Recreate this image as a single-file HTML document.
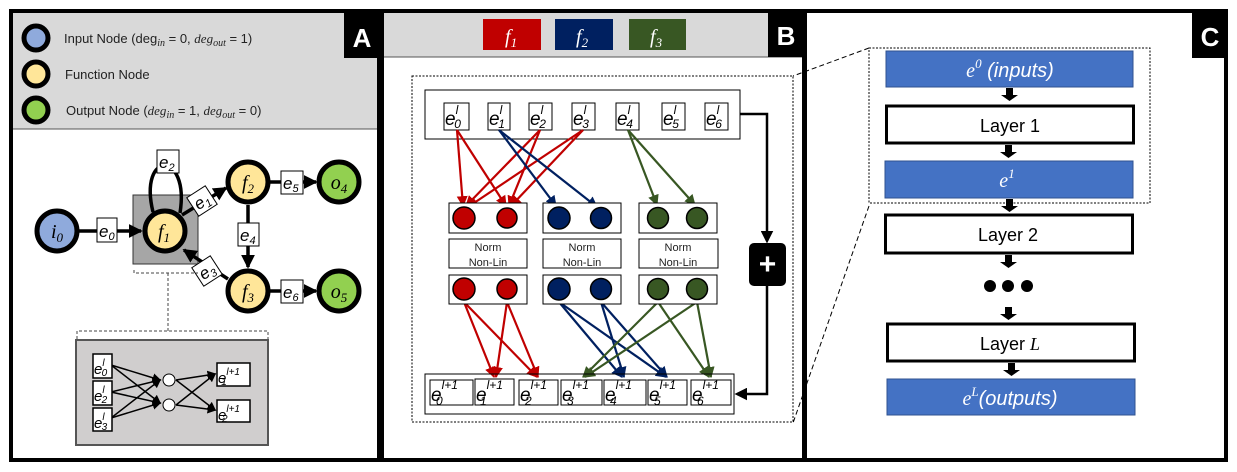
<!DOCTYPE html>
<html><head><meta charset="utf-8"><style>
body{margin:0;background:#fff}
svg{display:block}
text{font-family:"Liberation Sans",sans-serif}
.m{font-family:"Liberation Serif",serif;font-style:italic}
</style></head><body>
<svg width="1237" height="472" viewBox="0 0 1237 472">
<defs>
<marker id="ak" markerWidth="4" markerHeight="4" refX="3.5" refY="2" orient="auto" markerUnits="strokeWidth"><path d="M0,0L4,2L0,4z" fill="#000"/></marker>
<marker id="ak2" markerWidth="6" markerHeight="6" refX="5" refY="3" orient="auto" markerUnits="strokeWidth"><path d="M0,0L6,3L0,6z" fill="#000"/></marker>
<marker id="ar" markerWidth="5" markerHeight="5" refX="4.5" refY="2.5" orient="auto" markerUnits="strokeWidth"><path d="M0,0L5,2.5L0,5z" fill="#c00000"/></marker>
<marker id="ab" markerWidth="5" markerHeight="5" refX="4.5" refY="2.5" orient="auto" markerUnits="strokeWidth"><path d="M0,0L5,2.5L0,5z" fill="#002060"/></marker>
<marker id="ag" markerWidth="5" markerHeight="5" refX="4.5" refY="2.5" orient="auto" markerUnits="strokeWidth"><path d="M0,0L5,2.5L0,5z" fill="#385723"/></marker>
<marker id="as" markerWidth="5" markerHeight="5" refX="4" refY="2.5" orient="auto" markerUnits="strokeWidth"><path d="M0,0L5,2.5L0,5z" fill="#000"/></marker>
</defs>

<!-- Panel A -->
<g>
<rect x="12" y="12" width="367" height="117" fill="#d9d9d9"/>
<line x1="12" y1="129" x2="379" y2="129" stroke="#555" stroke-width="1"/>
<rect x="11" y="11" width="368" height="449" fill="none" stroke="#000" stroke-width="4"/>
<rect x="344" y="12" width="36" height="46" fill="#000"/>
<text x="362" y="47" font-size="26" font-weight="bold" fill="#fff" text-anchor="middle">A</text>
<g>
<circle cx="36" cy="38" r="12" fill="#8faadc" stroke="#000" stroke-width="5"/>
<circle cx="36" cy="74" r="12" fill="#ffe699" stroke="#000" stroke-width="5"/>
<circle cx="36" cy="110" r="12" fill="#92d050" stroke="#000" stroke-width="5"/>
<text x="64" y="43" font-size="13" fill="#222">Input Node (deg<tspan class="m" font-size="10" dy="3">in</tspan><tspan dy="-3"> = 0, </tspan><tspan class="m">deg</tspan><tspan class="m" font-size="10" dy="3">out</tspan><tspan dy="-3"> = 1)</tspan></text>
<text x="65" y="79" font-size="13" fill="#222">Function Node</text>
<text x="66" y="115" font-size="13" fill="#222">Output Node (<tspan class="m">deg</tspan><tspan class="m" font-size="10" dy="3">in</tspan><tspan dy="-3"> = 1, </tspan><tspan class="m">deg</tspan><tspan class="m" font-size="10" dy="3">out</tspan><tspan dy="-3"> = 0)</tspan></text>
</g>
<g>
<rect x="133" y="195" width="65" height="69" fill="#a6a6a6" stroke="#333" stroke-width="1"/>
<line x1="78" y1="231" x2="141" y2="231" stroke="#000" stroke-width="3.5" marker-end="url(#ak)"/>
<path d="M153,212 C138,150 190,150 180,213" fill="none" stroke="#000" stroke-width="3.5" marker-start="url(#ak)"/>
<line x1="182" y1="215" x2="226" y2="188" stroke="#000" stroke-width="3.5" marker-end="url(#ak)"/>
<line x1="248" y1="205" x2="248" y2="267" stroke="#000" stroke-width="3.5" marker-end="url(#ak)"/>
<line x1="228" y1="279" x2="184" y2="250" stroke="#000" stroke-width="3.5" marker-end="url(#ak)"/>
<line x1="270" y1="182" x2="316" y2="182" stroke="#000" stroke-width="3.5" marker-end="url(#ak)"/>
<line x1="270" y1="291" x2="316" y2="291" stroke="#000" stroke-width="3.5" marker-end="url(#ak)"/>
<circle cx="57" cy="231" r="20" fill="#8faadc" stroke="#000" stroke-width="5"/>
<text x="57" y="238" class="m" font-size="20" text-anchor="middle">i<tspan font-size="13" dy="4">0</tspan></text>
<circle cx="165" cy="231" r="20" fill="#ffe699" stroke="#000" stroke-width="5"/>
<text x="164" y="238" class="m" font-size="20" text-anchor="middle">f<tspan font-size="13" dy="4">1</tspan></text>
<circle cx="248" cy="182" r="20" fill="#ffe699" stroke="#000" stroke-width="5"/>
<text x="248" y="189" class="m" font-size="20" text-anchor="middle">f<tspan font-size="13" dy="4">2</tspan></text>
<circle cx="248" cy="291" r="20" fill="#ffe699" stroke="#000" stroke-width="5"/>
<text x="248" y="298" class="m" font-size="20" text-anchor="middle">f<tspan font-size="13" dy="4">3</tspan></text>
<circle cx="339" cy="182" r="20" fill="#92d050" stroke="#000" stroke-width="5"/>
<text x="339" y="189" class="m" font-size="20" text-anchor="middle">o<tspan font-size="13" dy="4">4</tspan></text>
<circle cx="339" cy="291" r="20" fill="#92d050" stroke="#000" stroke-width="5"/>
<text x="339" y="298" class="m" font-size="20" text-anchor="middle">o<tspan font-size="13" dy="4">5</tspan></text>
<g font-size="17" class="m">
<rect x="97" y="218" width="20" height="24" fill="#fff" stroke="#000"/><text x="99" y="237">e<tspan font-size="11" dy="3">0</tspan></text>
<rect x="157" y="150" width="22" height="23" fill="#fff" stroke="#000"/><text x="159" y="168">e<tspan font-size="11" dy="3">2</tspan></text>
<g transform="translate(202,201) rotate(-33)"><rect x="-11" y="-11" width="22" height="22" fill="#fff" stroke="#000"/><text x="-8" y="6">e<tspan font-size="11" dy="3">1</tspan></text></g>
<g transform="translate(207,271) rotate(-33)"><rect x="-11" y="-11" width="22" height="22" fill="#fff" stroke="#000"/><text x="-8" y="6">e<tspan font-size="11" dy="3">3</tspan></text></g>
<rect x="238" y="223" width="21" height="23" fill="#fff" stroke="#000"/><text x="240" y="241">e<tspan font-size="11" dy="3">4</tspan></text>
<rect x="281" y="171" width="22" height="23" fill="#fff" stroke="#000"/><text x="283" y="189">e<tspan font-size="11" dy="3">5</tspan></text>
<rect x="281" y="280" width="22" height="23" fill="#fff" stroke="#000"/><text x="283" y="298">e<tspan font-size="11" dy="3">6</tspan></text>
</g>
</g>
<g>
<path d="M134,270 L134,273 L198,273" fill="none" stroke="#444" stroke-dasharray="3,2"/>
<line x1="168" y1="273" x2="168" y2="331" stroke="#444" stroke-dasharray="3,2"/>
<path d="M77,339 L77,331 L268,331 L268,339" fill="none" stroke="#444" stroke-dasharray="3,2"/>
<rect x="76" y="340" width="192" height="105" fill="#d0cece" stroke="#555" stroke-width="2"/>
<g stroke="#000" stroke-width="1.5">
<line x1="111" y1="365" x2="160" y2="380" marker-end="url(#ak2)"/><line x1="111" y1="365" x2="160" y2="403" marker-end="url(#ak2)"/>
<line x1="111" y1="392" x2="160" y2="380" marker-end="url(#ak2)"/><line x1="111" y1="392" x2="160" y2="403" marker-end="url(#ak2)"/>
<line x1="111" y1="418" x2="160" y2="380" marker-end="url(#ak2)"/><line x1="111" y1="418" x2="160" y2="403" marker-end="url(#ak2)"/>
<line x1="176" y1="380" x2="215" y2="374" marker-end="url(#ak2)"/><line x1="176" y1="380" x2="215" y2="410" marker-end="url(#ak2)"/>
<line x1="176" y1="405" x2="215" y2="374" marker-end="url(#ak2)"/><line x1="176" y1="405" x2="215" y2="410" marker-end="url(#ak2)"/>
</g>
<circle cx="169" cy="380" r="6" fill="#fff" stroke="#000"/><circle cx="169" cy="405" r="6" fill="#fff" stroke="#000"/>
<g class="m" font-size="15">
<rect x="93" y="354" width="19" height="24" fill="#fff" stroke="#000" stroke-width="1.5"/><text x="94" y="374">e<tspan font-size="10" dy="-8">l</tspan><tspan font-size="10" dx="-3" dy="10">0</tspan></text>
<rect x="93" y="381" width="19" height="24" fill="#fff" stroke="#000" stroke-width="1.5"/><text x="94" y="401">e<tspan font-size="10" dy="-8">l</tspan><tspan font-size="10" dx="-3" dy="10">2</tspan></text>
<rect x="93" y="408" width="19" height="23" fill="#fff" stroke="#000" stroke-width="1.5"/><text x="94" y="428">e<tspan font-size="10" dy="-8">l</tspan><tspan font-size="10" dx="-3" dy="10">3</tspan></text>
<rect x="217" y="363" width="33" height="23" fill="#fff" stroke="#000" stroke-width="1.5"/><text x="218" y="383">e<tspan font-size="10" dy="-8">l+1</tspan><tspan font-size="10" dx="-18" dy="10">1</tspan></text>
<rect x="217" y="400" width="33" height="22" fill="#fff" stroke="#000" stroke-width="1.5"/><text x="218" y="420">e<tspan font-size="10" dy="-8">l+1</tspan><tspan font-size="10" dx="-18" dy="10">2</tspan></text>
</g>
</g>
</g>

<!-- Panel B -->
<g>
<rect x="383" y="12" width="420" height="45" fill="#d9d9d9"/>
<line x1="383" y1="57" x2="803" y2="57" stroke="#555"/>
<rect x="382" y="11" width="422" height="449" fill="none" stroke="#000" stroke-width="4"/>
<rect x="768" y="12" width="36" height="45" fill="#000"/>
<text x="786" y="45" font-size="26" font-weight="bold" fill="#fff" text-anchor="middle">B</text>
<g>
<rect x="483" y="19" width="58" height="31" fill="#c00000"/><text x="505" y="43" class="m" font-size="20" fill="#fff">f<tspan font-size="13" dy="4">1</tspan></text>
<rect x="555" y="19" width="58" height="31" fill="#002060"/><text x="576" y="43" class="m" font-size="20" fill="#fff">f<tspan font-size="13" dy="4">2</tspan></text>
<rect x="629" y="19" width="57" height="31" fill="#385723"/><text x="650" y="43" class="m" font-size="20" fill="#fff">f<tspan font-size="13" dy="4">3</tspan></text>
</g>
<rect x="412" y="76" width="381" height="346" fill="none" stroke="#000" stroke-dasharray="2,1.5" stroke-width="1"/>
<rect x="425" y="90" width="315" height="49" fill="#fff" stroke="#000"/>
<g class="m" font-size="19">
<rect x="444" y="103" width="25" height="27" fill="#fff" stroke="#000"/><text x="445" y="125">e<tspan font-size="12" dy="-11">l</tspan><tspan font-size="12" dx="-4" dy="14">0</tspan></text>
<rect x="488" y="103" width="22" height="27" fill="#fff" stroke="#000"/><text x="489" y="125">e<tspan font-size="12" dy="-11">l</tspan><tspan font-size="12" dx="-4" dy="14">1</tspan></text>
<rect x="529" y="103" width="23" height="27" fill="#fff" stroke="#000"/><text x="530" y="125">e<tspan font-size="12" dy="-11">l</tspan><tspan font-size="12" dx="-4" dy="14">2</tspan></text>
<rect x="572" y="103" width="23" height="27" fill="#fff" stroke="#000"/><text x="573" y="125">e<tspan font-size="12" dy="-11">l</tspan><tspan font-size="12" dx="-4" dy="14">3</tspan></text>
<rect x="616" y="103" width="23" height="27" fill="#fff" stroke="#000"/><text x="617" y="125">e<tspan font-size="12" dy="-11">l</tspan><tspan font-size="12" dx="-4" dy="14">4</tspan></text>
<rect x="662" y="103" width="23" height="27" fill="#fff" stroke="#000"/><text x="663" y="125">e<tspan font-size="12" dy="-11">l</tspan><tspan font-size="12" dx="-4" dy="14">5</tspan></text>
<rect x="705" y="103" width="23" height="27" fill="#fff" stroke="#000"/><text x="706" y="125">e<tspan font-size="12" dy="-11">l</tspan><tspan font-size="12" dx="-4" dy="14">6</tspan></text>
</g>
<g stroke-width="2.2" fill="none">
<g stroke="#c00000">
<line x1="457" y1="130" x2="463" y2="206" marker-end="url(#ar)"/><line x1="457" y1="130" x2="506" y2="206" marker-end="url(#ar)"/>
<line x1="540" y1="130" x2="466" y2="206" marker-end="url(#ar)"/><line x1="540" y1="130" x2="509" y2="206" marker-end="url(#ar)"/>
<line x1="583" y1="130" x2="468" y2="207" marker-end="url(#ar)"/><line x1="583" y1="130" x2="511" y2="206" marker-end="url(#ar)"/>
<line x1="464" y1="302" x2="494" y2="377" marker-end="url(#ar)"/><line x1="464" y1="302" x2="537" y2="377" marker-end="url(#ar)"/>
<line x1="507" y1="302" x2="496" y2="377" marker-end="url(#ar)"/><line x1="507" y1="302" x2="538" y2="377" marker-end="url(#ar)"/>
</g>
<g stroke="#002060">
<line x1="499" y1="130" x2="556" y2="206" marker-end="url(#ab)"/><line x1="499" y1="130" x2="597" y2="207" marker-end="url(#ab)"/>
<line x1="559" y1="302" x2="622" y2="377" marker-end="url(#ab)"/><line x1="559" y1="302" x2="666" y2="377" marker-end="url(#ab)"/>
<line x1="601" y1="302" x2="624" y2="377" marker-end="url(#ab)"/><line x1="601" y1="302" x2="667" y2="377" marker-end="url(#ab)"/>
</g>
<g stroke="#385723">
<line x1="628" y1="130" x2="657" y2="205" marker-end="url(#ag)"/><line x1="628" y1="130" x2="695" y2="205" marker-end="url(#ag)"/>
<line x1="658" y1="302" x2="583" y2="377" marker-end="url(#ag)"/><line x1="658" y1="302" x2="709" y2="377" marker-end="url(#ag)"/>
<line x1="697" y1="302" x2="585" y2="377" marker-end="url(#ag)"/><line x1="697" y1="302" x2="711" y2="377" marker-end="url(#ag)"/>
</g>
</g>
<g>
<rect x="449" y="203" width="78" height="30" fill="#fff" stroke="#000"/>
<rect x="543" y="203" width="78" height="30" fill="#fff" stroke="#000"/>
<rect x="639" y="203" width="78" height="30" fill="#fff" stroke="#000"/>
<rect x="449" y="275" width="78" height="29" fill="#fff" stroke="#000"/>
<rect x="543" y="275" width="78" height="29" fill="#fff" stroke="#000"/>
<rect x="639" y="275" width="78" height="29" fill="#fff" stroke="#000"/>
<g stroke="#000" stroke-width="1.5">
<circle cx="464" cy="218" r="11" fill="#c00000"/><circle cx="507" cy="218" r="10" fill="#c00000"/>
<circle cx="559" cy="218" r="11" fill="#002060"/><circle cx="601" cy="218" r="10.5" fill="#002060"/>
<circle cx="658" cy="218" r="10.5" fill="#385723"/><circle cx="697" cy="218" r="10.5" fill="#385723"/>
<circle cx="464" cy="289" r="11" fill="#c00000"/><circle cx="507" cy="289" r="10" fill="#c00000"/>
<circle cx="559" cy="289" r="11" fill="#002060"/><circle cx="601" cy="289" r="10.5" fill="#002060"/>
<circle cx="658" cy="289" r="10.5" fill="#385723"/><circle cx="697" cy="289" r="10.5" fill="#385723"/>
</g>
<g font-size="11" fill="#222" text-anchor="middle">
<rect x="449" y="239" width="78" height="29" fill="#fff" stroke="#000"/><text x="488" y="251">Norm</text><text x="488" y="266">Non-Lin</text>
<rect x="543" y="239" width="78" height="29" fill="#fff" stroke="#000"/><text x="582" y="251">Norm</text><text x="582" y="266">Non-Lin</text>
<rect x="639" y="239" width="79" height="29" fill="#fff" stroke="#000"/><text x="678" y="251">Norm</text><text x="678" y="266">Non-Lin</text>
</g>
</g>
<rect x="425" y="374" width="309" height="40" fill="none" stroke="#000"/>
<g class="m" font-size="19">
<rect x="430" y="380" width="43" height="25" fill="#fff" stroke="#000"/><text x="431" y="401">e<tspan font-size="12" dy="-12">l+1</tspan><tspan font-size="12" dx="-22" dy="16">0</tspan></text>
<rect x="475" y="379" width="39" height="26" fill="#fff" stroke="#000"/><text x="476" y="401">e<tspan font-size="12" dy="-12">l+1</tspan><tspan font-size="12" dx="-22" dy="16">1</tspan></text>
<rect x="519" y="380" width="39" height="25" fill="#fff" stroke="#000"/><text x="520" y="401">e<tspan font-size="12" dy="-12">l+1</tspan><tspan font-size="12" dx="-22" dy="16">2</tspan></text>
<rect x="561" y="380" width="41" height="25" fill="#fff" stroke="#000"/><text x="562" y="401">e<tspan font-size="12" dy="-12">l+1</tspan><tspan font-size="12" dx="-22" dy="16">3</tspan></text>
<rect x="604" y="380" width="42" height="25" fill="#fff" stroke="#000"/><text x="605" y="401">e<tspan font-size="12" dy="-12">l+1</tspan><tspan font-size="12" dx="-22" dy="16">4</tspan></text>
<rect x="648" y="380" width="39" height="25" fill="#fff" stroke="#000"/><text x="649" y="401">e<tspan font-size="12" dy="-12">l+1</tspan><tspan font-size="12" dx="-22" dy="16">5</tspan></text>
<rect x="691" y="380" width="40" height="25" fill="#fff" stroke="#000"/><text x="692" y="401">e<tspan font-size="12" dy="-12">l+1</tspan><tspan font-size="12" dx="-22" dy="16">6</tspan></text>
</g>
<g>
<polyline points="740,114 767,114 767,241" fill="none" stroke="#000" stroke-width="2.5" marker-end="url(#as)"/>
<polyline points="767,286 767,394 737,394" fill="none" stroke="#000" stroke-width="2.5" marker-end="url(#as)"/>
<rect x="749" y="243" width="37" height="43" rx="5" fill="#000"/>
<text x="767.5" y="274" font-size="30" font-weight="bold" fill="#fff" text-anchor="middle">+</text>
</g>
</g>

<!-- Panel C -->
<g>
<rect x="805" y="11" width="421" height="449" fill="none" stroke="#000" stroke-width="4"/>
<rect x="1192" y="12" width="35" height="46" fill="#000"/>
<text x="1210" y="46" font-size="26" font-weight="bold" fill="#fff" text-anchor="middle">C</text>
<rect x="869" y="48" width="281" height="155" fill="none" stroke="#000" stroke-dasharray="2,1.5"/>
<line x1="869" y1="48" x2="793" y2="76" stroke="#000" stroke-dasharray="5,3"/>
<line x1="869" y1="206" x2="793" y2="423" stroke="#000" stroke-dasharray="5,3"/>
<g fill="#000">
<rect x="1006" y="88" width="7" height="8"/><path d="M1001,95h17l-8.5,6z"/>
<rect x="1005" y="145" width="7" height="8"/><path d="M1000,152h17l-8.5,6z"/>
<rect x="1006" y="199" width="7" height="8"/><path d="M1001,206h17l-8.5,6z"/>
<rect x="1005" y="255" width="7" height="8"/><path d="M1000,262h17l-8.5,6z"/>
<rect x="1005" y="307" width="7" height="8"/><path d="M1000,314h17l-8.5,6z"/>
<rect x="1008" y="363" width="7" height="8"/><path d="M1003,370h17l-8.5,6z"/>
<circle cx="990" cy="286" r="6"/><circle cx="1008" cy="286" r="6"/><circle cx="1027" cy="286" r="6"/>
</g>
<rect x="886" y="51" width="247" height="36" fill="#4472c4" stroke="#2f528f"/>
<text x="1010" y="77" text-anchor="middle" fill="#fff" font-size="20"><tspan class="m">e</tspan><tspan class="m" font-size="13" dy="-9">0</tspan><tspan dy="9" font-style="italic"> (inputs)</tspan></text>
<rect x="886.5" y="106" width="247" height="37" fill="#fff" stroke="#000" stroke-width="3"/>
<text x="1010" y="132" text-anchor="middle" font-size="18">Layer 1</text>
<rect x="885" y="161" width="248" height="37" fill="#4472c4" stroke="#2f528f"/>
<text x="1007" y="187" text-anchor="middle" fill="#fff" font-size="20"><tspan class="m">e</tspan><tspan class="m" font-size="13" dy="-9">1</tspan></text>
<rect x="885.5" y="215" width="247" height="38" fill="#fff" stroke="#000" stroke-width="3"/>
<text x="1008" y="241" text-anchor="middle" font-size="18">Layer 2</text>
<rect x="887.5" y="324" width="247" height="37" fill="#fff" stroke="#000" stroke-width="3"/>
<text x="1010" y="350" text-anchor="middle" font-size="18">Layer <tspan class="m">L</tspan></text>
<rect x="887" y="379" width="248" height="36" fill="#4472c4" stroke="#2f528f"/>
<text x="1010" y="405" text-anchor="middle" fill="#fff" font-size="20"><tspan class="m">e</tspan><tspan class="m" font-size="13" dy="-9">L</tspan><tspan dy="9" font-style="italic">(outputs)</tspan></text>
</g>
</svg>
</body></html>
